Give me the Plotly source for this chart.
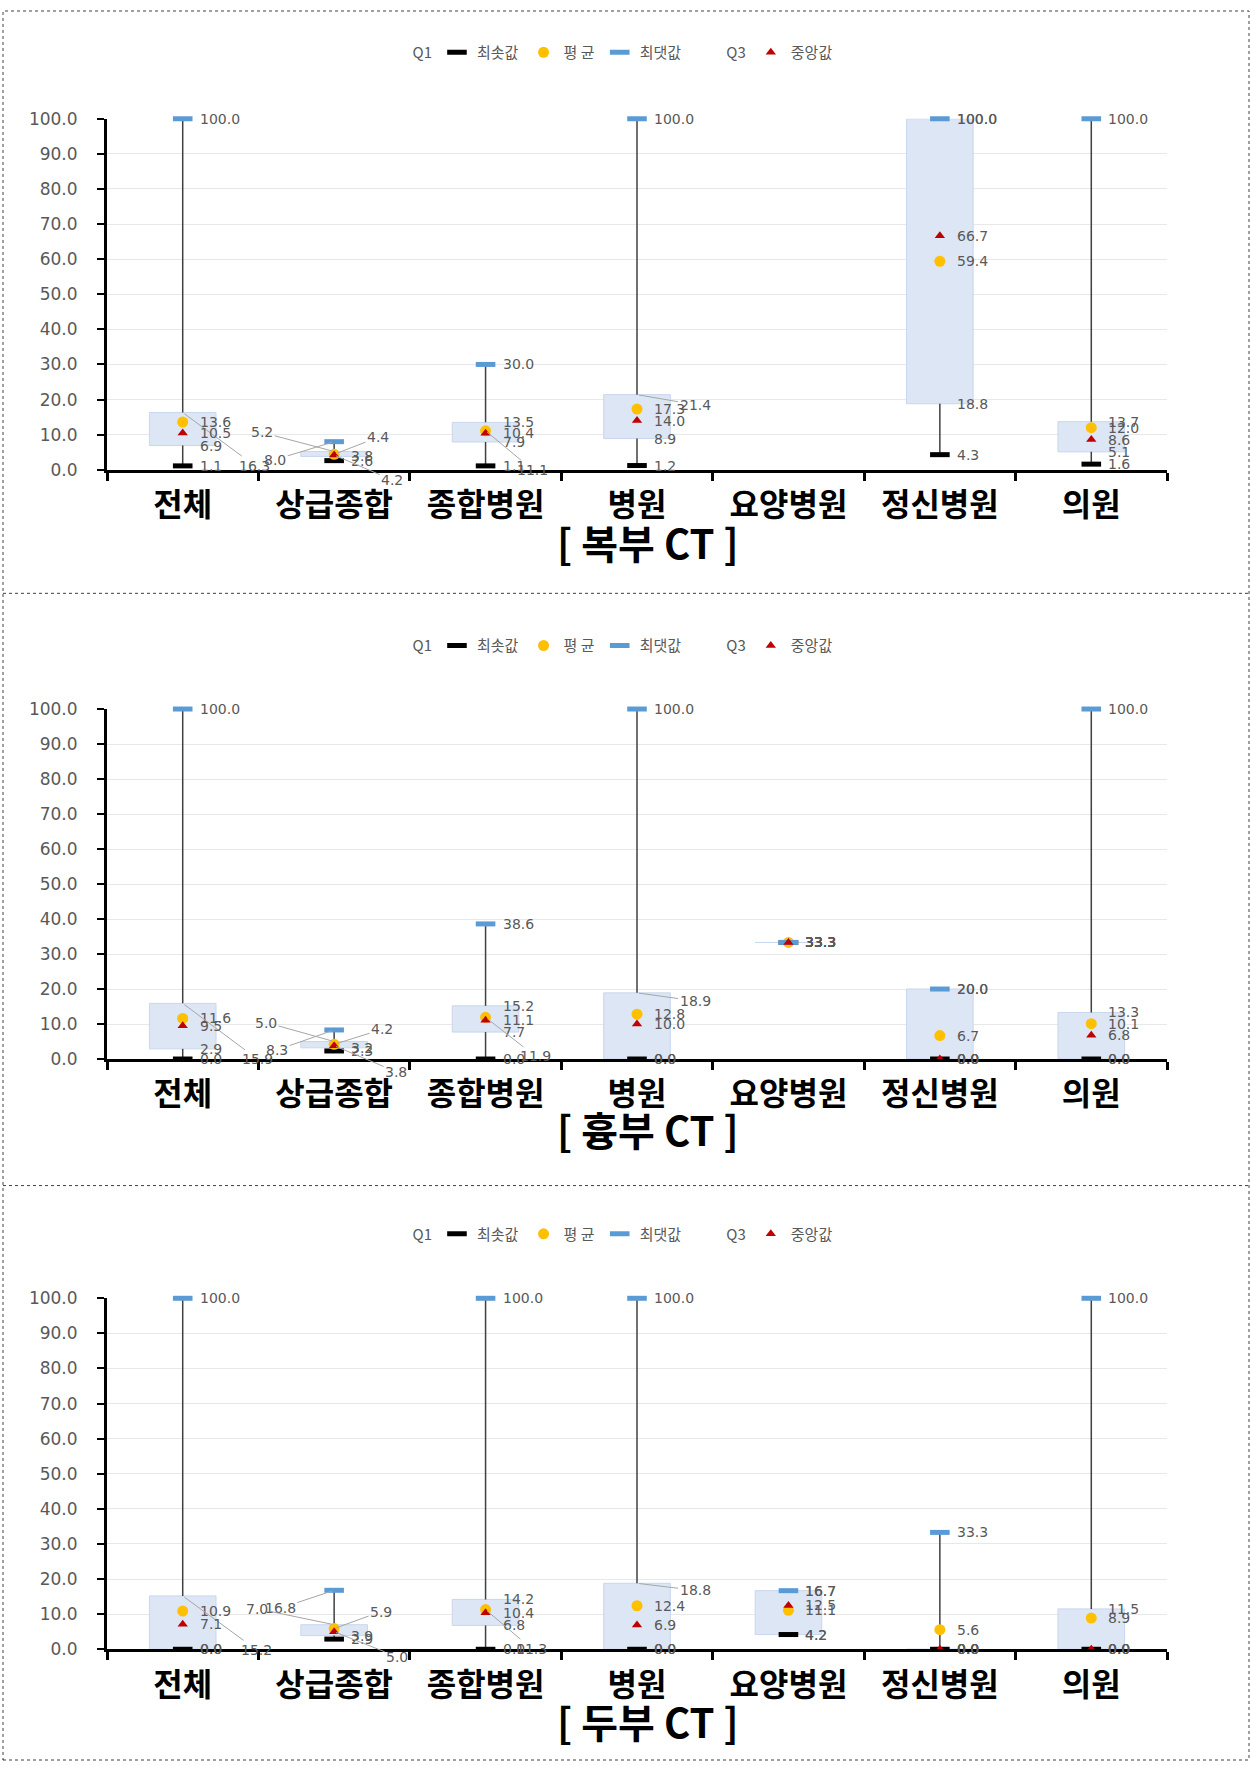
import plotly.graph_objects as go

categories = ["전체", "상급종합", "종합병원", "병원", "요양병원", "정신병원", "의원"]
panel_titles = ["[ 복부 CT ]", "[ 흉부 CT ]", "[ 두부 CT ]"]
y_ticks = [0, 10, 20, 30, 40, 50, 60, 70, 80, 90, 100]

# 복부 CT
abd_min = [1.1, 2.6, 1.1, 1.2, None, 4.3, 1.6]
abd_q1 = [6.9, 3.8, 7.9, 8.9, None, 18.8, 5.1]
abd_median = [10.5, 4.2, 10.4, 14.0, None, 66.7, 8.6]
abd_mean = [13.6, 4.4, 11.1, 17.3, None, 59.4, 12.0]
abd_q3 = [16.3, 5.2, 13.5, 21.4, None, 100.0, 13.7]
abd_max = [100.0, 8.0, 30.0, 100.0, None, 100.0, 100.0]

# 흉부 CT
chest_min = [0.0, 2.3, 0.0, 0.0, 33.3, 0.0, 0.0]
chest_q1 = [2.9, 3.2, 7.7, 0.0, 33.3, 0.0, 0.0]
chest_median = [9.5, 3.8, 11.1, 10.0, 33.3, 0.0, 6.8]
chest_mean = [11.6, 4.2, 11.9, 12.8, 33.3, 6.7, 10.1]
chest_q3 = [15.9, 5.0, 15.2, 18.9, 33.3, 20.0, 13.3]
chest_max = [100.0, 8.3, 38.6, 100.0, 33.3, 20.0, 100.0]

# 두부 CT
head_min = [0.0, 2.9, 0.0, 0.0, 4.2, 0.0, 0.0]
head_q1 = [0.0, 3.9, 6.8, 0.0, 4.2, 0.0, 0.0]
head_median = [7.1, 5.0, 10.4, 6.9, 12.5, 0.0, 0.0]
head_mean = [10.9, 5.9, 11.3, 12.4, 11.1, 5.6, 8.9]
head_q3 = [15.2, 7.0, 14.2, 18.8, 16.7, 0.0, 11.5]
head_max = [100.0, 16.8, 100.0, 100.0, 16.7, 33.3, 100.0]

panels = [
    (abd_min, abd_q1, abd_median, abd_mean, abd_q3, abd_max),
    (chest_min, chest_q1, chest_median, chest_mean, chest_q3, chest_max),
    (head_min, head_q1, head_median, head_mean, head_q3, head_max),
]

# ---- layout / styling (pixels) ----
W, H = 1252, 1771
panel_px = [
    dict(top=110, bottom=465, legend=43, title=538),
    dict(top=707, bottom=1061, legend=643, title=1132),
    dict(top=1303, bottom=1658, legend=1238, title=1731),
]
dividers_px = [590, 1189]
x_left, x_right = 107, 1167

# displaced data labels with leader lines: (panel, series, category index) -> (dx, dy) px
label_moves = {
    (0, "Q3", 0): (72, 53), (0, "Q3", 1): (-72, -19), (0, "평 균", 1): (44, -17),
    (0, "최댓값", 1): (-59, 18), (0, "중앙값", 1): (58, 25), (0, "평 균", 2): (47, 39),
    (0, "Q3", 3): (58, 10),
    (1, "Q3", 0): (75, 56), (1, "Q3", 1): (-68, -19), (1, "평 균", 1): (48, -15),
    (1, "최댓값", 1): (-57, 20), (1, "중앙값", 1): (62, 26), (1, "평 균", 2): (50, 39),
    (1, "Q3", 3): (58, 8),
    (2, "Q3", 0): (74, 54), (2, "Q3", 1): (-77, -16), (2, "평 균", 1): (47, -17),
    (2, "최댓값", 1): (-54, 18), (2, "중앙값", 1): (63, 25), (2, "평 균", 2): (46, 39),
    (2, "Q3", 3): (58, 7),
}


def py(v):
    return 1 - v / H


fig = go.Figure()
label_font = dict(family="DejaVu Sans", size=14, color="#595959")

for i, (mn, q1, med, mean, q3, mx) in enumerate(panels):
    sfx = "" if i == 0 else str(i + 1)
    xa, ya = "x" + sfx, "y" + sfx
    lg = "legend" + sfx
    heights = [None if (a is None or b is None) else round(b - a, 3) for a, b in zip(q1, q3)]
    fig.add_trace(go.Bar(x=categories, y=heights, base=q1, width=0.44,
                         marker=dict(color="#DCE6F5", line=dict(color="#C9D6EC", width=1)),
                         showlegend=False, hoverinfo="skip", xaxis=xa, yaxis=ya, legend=lg))
    wx, wy = [], []
    for c, a, b, cq3, d in zip(categories, mn, q1, q3, mx):
        if a is None:
            continue
        wx += [c, c, None, c, c, None]
        wy += [a, b, None, cq3, d, None]
    fig.add_trace(go.Scatter(x=wx, y=wy, mode="lines", line=dict(color="#404040", width=1.5),
                             showlegend=False, hoverinfo="skip", xaxis=xa, yaxis=ya, legend=lg,
                             cliponaxis=False))
    series = [
        ("Q1", q1, dict(color="rgba(0,0,0,0)", size=10)),
        ("최솟값", mn, dict(symbol="line-ew", size=14, color="black", line=dict(color="black", width=5))),
        ("평 균", mean, dict(symbol="circle", size=11, color="#FFC000")),
        ("최댓값", mx, dict(symbol="line-ew", size=14, color="#5B9BD5", line=dict(color="#5B9BD5", width=5))),
        ("Q3", q3, dict(color="rgba(0,0,0,0)", size=10)),
        ("중앙값", med, dict(symbol="triangle-up", size=9, color="#C00000")),
    ]
    for name, vals, mk in series:
        fig.add_trace(go.Scatter(x=categories, y=vals, name=name, mode="markers",
                                 marker=mk, cliponaxis=False, xaxis=xa, yaxis=ya,
                                 legend=lg, hoverinfo="skip"))
        for k, (c, v) in enumerate(zip(categories, vals)):
            if v is None:
                continue
            mv = label_moves.get((i, name, k))
            if mv is None:
                fig.add_annotation(x=c, y=v, xref=xa, yref=ya, text=f"{v:.1f}", showarrow=False,
                                   xanchor="left", yanchor="middle", xshift=15, font=label_font)
            else:
                fig.add_annotation(x=c, y=v, xref=xa, yref=ya, text=f"{v:.1f}", showarrow=True,
                                   ax=mv[0], ay=mv[1], arrowhead=0, arrowwidth=1,
                                   arrowcolor="#A6A6A6", standoff=2, font=label_font)
    p = panel_px[i]
    fig.update_layout(**{
        "xaxis" + sfx: dict(domain=[x_left / W, x_right / W], anchor=ya, type="category",
                            categoryorder="array", categoryarray=categories,
                            range=[-0.5, 6.5], showgrid=False, showline=True,
                            linecolor="black", linewidth=3, ticks="outside",
                            tickson="boundaries", ticklen=8, tickwidth=3, tickcolor="black",
                            tickfont=dict(family="Noto Sans CJK KR", size=32, color="black",
                                          weight="bold"),
                            ticklabelstandoff=5, fixedrange=True),
        "yaxis" + sfx: dict(domain=[py(p["bottom"]), py(p["top"])], anchor=xa,
                            range=[0, 100], tickvals=y_ticks, tickformat=".1f",
                            showgrid=True, gridcolor="#E8E8E8", gridwidth=1,
                            showline=True, linecolor="black", linewidth=3,
                            ticks="outside", ticklen=7, tickwidth=2, tickcolor="black",
                            ticklabelstandoff=16,
                            tickfont=dict(family="DejaVu Sans", size=17, color="#595959"),
                            zeroline=False, fixedrange=True),
        lg: dict(orientation="h", x=605 / W, xanchor="center", y=py(p["legend"]),
                 yanchor="middle", font=dict(family="Noto Sans CJK KR", size=15, color="#595959"),
                 itemwidth=30, bgcolor="rgba(0,0,0,0)"),
    })
    fig.add_annotation(x=648 / W, y=py(p["title"]), xref="paper", yref="paper",
                       text=panel_titles[i], showarrow=False, xanchor="center", yanchor="middle",
                       font=dict(family="Noto Sans CJK KR", size=40, color="black", weight="bold"))

# dotted frame and dividers
fig.add_shape(type="rect", xref="paper", yref="paper", x0=3 / W, x1=1 - 3 / W, y0=1 / H, y1=1 - 1 / H,
              line=dict(color="#404040", width=1, dash="dot"))
for yd in dividers_px:
    fig.add_shape(type="line", xref="paper", yref="paper", x0=3 / W, x1=1 - 3 / W, y0=py(yd), y1=py(yd),
                  line=dict(color="#404040", width=1, dash="dot"))

fig.update_layout(width=W, height=H, margin=dict(l=0, r=0, t=0, b=0), autosize=False,
                  paper_bgcolor="white", plot_bgcolor="white", barmode="overlay",
                  font=dict(family="Noto Sans CJK KR"))

fig.write_html(
    "out.html",
    config={"displayModeBar": False},
    post_script="document.body.style.margin='0';document.body.style.overflow='hidden';",
)
